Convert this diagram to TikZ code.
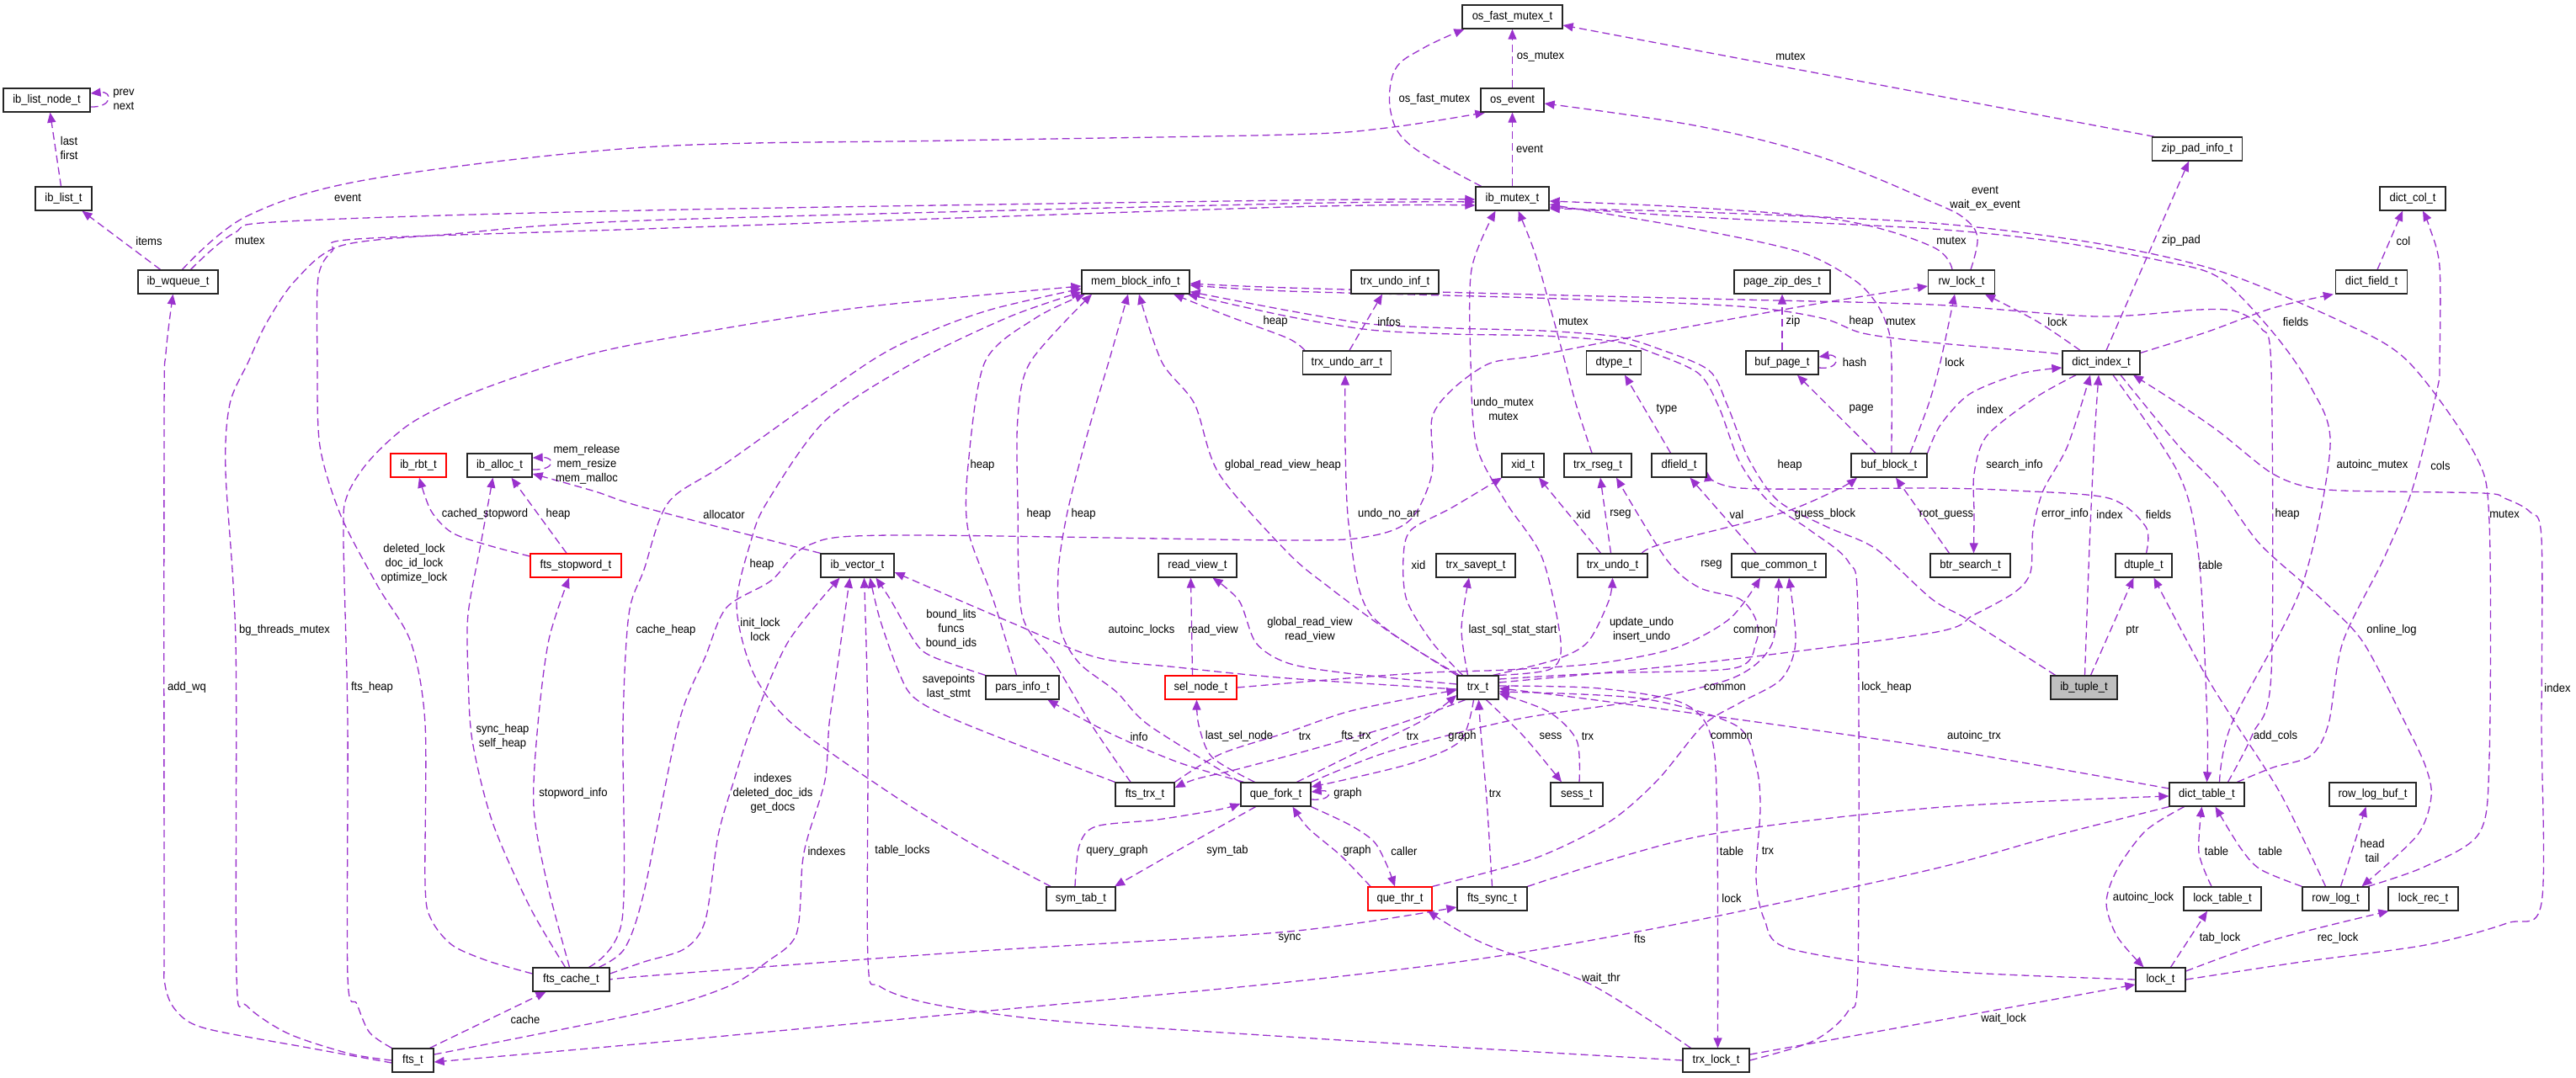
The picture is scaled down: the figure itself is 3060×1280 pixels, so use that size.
\documentclass[tikz,border=0pt]{standalone}
\usepackage{fontspec}
\setmainfont{Liberation Sans}[FakeStretch=0.93]
\usetikzlibrary{arrows.meta}
\definecolor{dorch}{RGB}{154,50,205}
\newcommand\dxf{\fontsize{14pt}{17pt}\selectfont}
\pgfdeclarelayer{edges}
\pgfsetlayers{edges,main}
\tikzset{
 box/.style={draw=black!85, line width=1.3pt, fill=white, minimum height=28pt, inner sep=0pt, font=\dxf},
 redbox/.style={box, draw=red},
 e/.style={draw=dorch, line width=1.3pt, dash pattern=on 9pt off 5pt, -{Triangle[length=12pt,width=10pt]}},
 lbl/.style={inner sep=0pt, font=\dxf, align=center},
}
\begin{document}
\begin{tikzpicture}[x=1pt,y=-1pt]
\useasboundingbox (0,0) rectangle (3060,1280);
\begin{pgfonlayer}{edges}
\fill[white] (0,0) rectangle (3060,1280);
\end{pgfonlayer}
% ---------------- nodes
\node[box,minimum width=103pt] (iblnode) at (55.5,119) {ib\_list\_node\_t};
\node[box,minimum width=67pt] (iblist) at (75.5,236) {ib\_list\_t};
\node[box,minimum width=95pt] (wqueue) at (211.5,335) {ib\_wqueue\_t};
\node[box,minimum width=128pt] (memblock) at (1349,335) {mem\_block\_info\_t};
\node[box,minimum width=119pt] (osfast) at (1796.5,20) {os\_fast\_mutex\_t};
\node[box,minimum width=75pt] (osevent) at (1796.5,119) {os\_event};
\node[box,minimum width=87pt] (ibmutex) at (1796.5,236) {ib\_mutex\_t};
\node[box,minimum width=104pt] (undoinf) at (1657,335) {trx\_undo\_inf\_t};
\node[box,minimum width=114pt] (pagezip) at (2117,335) {page\_zip\_des\_t};
\node[box,minimum width=105pt] (undoarr) at (1600,431) {trx\_undo\_arr\_t};
\node[box,minimum width=65pt] (dtype) at (1917,431) {dtype\_t};
\node[box,minimum width=86pt] (bufpage) at (2117,431) {buf\_page\_t};
\node[box,minimum width=79pt] (rwlock) at (2330,335) {rw\_lock\_t};
\node[box,minimum width=107pt] (zippad) at (2610,177) {zip\_pad\_info\_t};
\node[box,minimum width=78pt] (dictcol) at (2866,236) {dict\_col\_t};
\node[box,minimum width=85pt] (dictfield) at (2817,335) {dict\_field\_t};
\node[box,minimum width=92pt] (dictindex) at (2496,431) {dict\_index\_t};
\node[redbox,minimum width=66pt] (ibrbt) at (497,553) {ib\_rbt\_t};
\node[box,minimum width=77pt] (iballoc) at (593.5,553) {ib\_alloc\_t};
\node[redbox,minimum width=108pt] (stopword) at (684,672) {fts\_stopword\_t};
\node[box,minimum width=87pt] (ibvector) at (1018.5,672) {ib\_vector\_t};
\node[box,minimum width=93pt] (readview) at (1422.5,672) {read\_view\_t};
\node[box,minimum width=87pt] (parsinfo) at (1214.5,817) {pars\_info\_t};
\node[redbox,minimum width=85pt] (selnode) at (1426.5,817) {sel\_node\_t};
\node[box,minimum width=50pt] (xid) at (1809,553) {xid\_t};
\node[box,minimum width=80pt] (trxrseg) at (1898,553) {trx\_rseg\_t};
\node[box,minimum width=65pt] (dfield) at (1994.5,553) {dfield\_t};
\node[box,minimum width=90pt] (bufblock) at (2244,553) {buf\_block\_t};
\node[box,minimum width=94pt] (savept) at (1753,672) {trx\_savept\_t};
\node[box,minimum width=83pt] (trxundo) at (1915.5,672) {trx\_undo\_t};
\node[box,minimum width=112pt] (quecommon) at (2113,672) {que\_common\_t};
\node[box,minimum width=49pt] (trx) at (1755.5,817) {trx\_t};
\node[box,minimum width=95pt] (btrsearch) at (2340.5,672) {btr\_search\_t};
\node[box,minimum width=67pt] (dtuple) at (2546.5,672) {dtuple\_t};
\node[box,fill=black!25,minimum width=79pt] (ibtuple) at (2475.5,817) {ib\_tuple\_t};
\node[box,minimum width=91pt] (ftscache) at (678.5,1164) {fts\_cache\_t};
\node[box,minimum width=49pt] (fts) at (490.5,1260) {fts\_t};
\node[box,minimum width=70pt] (ftstrx) at (1360,944) {fts\_trx\_t};
\node[box,minimum width=83pt] (quefork) at (1515.5,944) {que\_fork\_t};
\node[box,minimum width=82pt] (symtab) at (1284,1068) {sym\_tab\_t};
\node[box,minimum width=62pt] (sess) at (1873,944) {sess\_t};
\node[redbox,minimum width=76pt] (quethr) at (1663,1068) {que\_thr\_t};
\node[box,minimum width=83pt] (ftssync) at (1772.5,1068) {fts\_sync\_t};
\node[box,minimum width=79pt] (trxlock) at (2038.5,1260) {trx\_lock\_t};
\node[box,minimum width=89pt] (dicttable) at (2621.5,944) {dict\_table\_t};
\node[box,minimum width=103pt] (rowlogbuf) at (2818.5,944) {row\_log\_buf\_t};
\node[box,minimum width=92pt] (locktable) at (2640,1068) {lock\_table\_t};
\node[box,minimum width=79pt] (rowlog) at (2774.5,1068) {row\_log\_t};
\node[box,minimum width=83pt] (lockrec) at (2878.5,1068) {lock\_rec\_t};
\node[box,minimum width=59pt] (lock) at (2566.5,1164) {lock\_t};
% ---------------- edges
\begin{pgfonlayer}{edges}
\draw[e] ([yshift=-8pt]iblnode.east) .. controls (134,128) and (134,108) .. ([yshift=8pt]iblnode.east);
\draw[e] ([xshift=-3pt]iblist.north) -- ([xshift=4pt]iblnode.south);
\draw[e] ([xshift=-21pt]wqueue.north) -- ([xshift=22pt]iblist.south);
\draw[e] plot[smooth,tension=.55] coordinates {([xshift=5pt]wqueue.north) (293,257) (439,213) (765,175) (1131,167) (1530,160) (1647,152) ([xshift=6pt]osevent.south west)};
\draw[e] plot[smooth,tension=.55] coordinates {([xshift=15pt]wqueue.north) (278,277) (341,263) (765,250) (1530,238) ([yshift=-1pt]ibmutex.west)};
\draw[e] plot[smooth,tension=.5] coordinates {([yshift=-3pt]fts.west) (366,1245) (244,1222) (210,1202) (196,1170) (195,1100) (195,500) (197,420) ([xshift=-6pt]wqueue.south)};
\draw[e] plot[smooth,tension=.5] coordinates {(fts.west) (415,1252) (342,1228) (293,1195) (281,1160) (280,763) (268,560) (273,480) (295,430) (317,383) (351,333) (405,292) (537,278) (765,262) (1530,242) ([yshift=-4pt]ibmutex.west)};
\draw[e] plot[smooth,tension=.5] coordinates {(fts.north west) (439,1227) (424,1193) (413,1160) (413,860) (408,640) (412,590) (439,547) (488,503) (561,467) (668,430) (765,407) (1009,367) ([yshift=-5pt]memblock.west)};
\draw[e] plot[smooth,tension=.5] coordinates {([yshift=7pt]ftscache.west) (580,1142) (537,1123) (512,1092) (505,1050) (505,860) (488,763) (449,697) (405,613) (380,530) (377,430) (378,330) (395,298) (424,284) (765,272) (1530,246) ([yshift=-8pt]ibmutex.west)};
\draw[e] ([xshift=-5pt]fts.north east) -- ([xshift=-30pt]ftscache.south);
\draw[e] (ibmutex.north) -- (osevent.south);
\draw[e] (osevent.north) -- (osfast.south);
\draw[e] plot[smooth,tension=.6] coordinates {([xshift=-37pt]ibmutex.north) (1676,173) (1652,133) (1657,83) (1691,57) ([xshift=3pt]osfast.south west)};
\draw[e] ([xshift=3pt]zippad.north west) -- ([yshift=-10pt]osfast.east);
\draw[e] plot[smooth,tension=.6] coordinates {([xshift=11pt]rwlock.north) (2349,283) (2334,260) (2295,240) (2164,187) (2018,150) ([yshift=-4pt]osevent.east)};
\draw[e] plot[smooth,tension=.6] coordinates {([xshift=-11pt]rwlock.north) (2295,293) (2189,262) (2018,247) ([yshift=-3pt]ibmutex.east)};
\draw[e] plot[smooth,tension=.5] coordinates {([xshift=3pt]bufblock.north) (2247,430) (2244,395) (2230,362) (2203,333) (2140,300) (2018,273) ([yshift=-7pt]ibmutex.east)};
\draw[e] plot[smooth,tension=.5] coordinates {([xshift=15pt]dicttable.north) (2651,860) (2734,697) (2768,530) (2745,460) (2700,395) (2636,330) (2568,310) (2441,287) (2295,272) (2018,258) ([yshift=-10pt]ibmutex.east)};
\draw[e] plot[smooth,tension=.5] coordinates {([xshift=-2pt]rowlog.north east) (2880,1030) (2945,990) (2957,900) (2957,620) (2940,540) (2861,430) (2783,383) (2636,322) (2490,289) (2295,265) (2018,252) ([yshift=-12pt]ibmutex.east)};
\draw[e] ([xshift=6pt]dictindex.north) -- ([xshift=-10pt]zippad.south);
\draw[e] ([xshift=7pt]dictfield.north) -- ([xshift=-12pt]dictcol.south);
\draw[e] plot[smooth,tension=.5] coordinates {([xshift=36pt]dicttable.north) (2700,912) (2745,898) (2766,860) (2783,763) (2832,663) (2866,580) (2895,463) (2898,430) (2898,317) (2886,270) ([xshift=12pt]dictcol.south)};
\draw[e] plot[smooth,tension=.5] coordinates {([yshift=-3pt]dictindex.north east) (2620,395) (2700,366) ([xshift=-2pt]dictfield.south west)};
\draw[e] plot[smooth,tension=.5] coordinates {([xshift=-25pt]dictindex.north) (2420,382) ([xshift=28pt]rwlock.south)};
\draw[e] plot[smooth,tension=.5] coordinates {([xshift=25pt]bufblock.north) (2291,480) (2305,430) ([xshift=-8pt]rwlock.south)};
\draw[e] plot[smooth,tension=.5] coordinates {([yshift=5pt]dictindex.west) (2441,420) (2295,407) (2213,396) (2164,378) (2066,364) (1823,354) (1530,346) ([yshift=-4pt]memblock.east)};
\draw[e] (bufpage.north) -- (pagezip.south);
\draw[e] ([yshift=-6pt]bufpage.east) .. controls (2186,440) and (2186,420) .. ([yshift=7pt]bufpage.east);
\draw[e] ([xshift=-16pt]bufblock.north) -- ([xshift=18pt]bufpage.south);
\draw[e] plot[smooth,tension=.5] coordinates {(bufblock.north east) (2305,505) (2340,468) (2400,444) ([yshift=-6pt]dictindex.west)};
\draw[e] plot[smooth,tension=.5] coordinates {([xshift=-30pt]dictindex.south) (2417,473) (2360,518) (2345,563) (2345,610) ([xshift=4pt]btrsearch.north)};
\draw[e] ([xshift=-25pt]btrsearch.north) -- ([xshift=8pt]bufblock.south);
\draw[e] plot[smooth,tension=.5] coordinates {([xshift=1pt]ibtuple.north) (2482,650) (2488,520) ([xshift=-3pt]dictindex.south)};
\draw[e] ([xshift=8pt]ibtuple.north) -- ([xshift=-12pt]dtuple.south);
\draw[e] plot[smooth,tension=.5] coordinates {([xshift=-34pt]ibtuple.north) (2339,737) (2295,712) (2228,652) (2170,626) (2112,595) (2077,545) (2052,482) (2030,440) (1969,414) (1920,400) (1832,393) (1725,390) (1628,385) (1530,369) ([yshift=3pt]memblock.south east)};
\draw[e] plot[smooth,tension=.5] coordinates {(trxlock.east) (2154,1237) (2195,1202) (2207,1150) (2207,730) (2196,668) (2150,630) (2100,595) (2066,548) (2042,484) (2018,444) (1965,420) (1920,406) (1832,399) (1725,397) (1628,392) (1530,376) ([xshift=-3pt]memblock.south east)};
\draw[e] plot[smooth,tension=.5] coordinates {([xshift=25pt]dicttable.north) (2676,872) (2698,800) (2698,440) (2686,390) (2656,370) (2612,368) (2490,376) (2295,362) (2066,356) (1823,350) (1530,342) ([yshift=-2pt]memblock.east)};
\draw[e] plot[smooth,tension=.5] coordinates {([xshift=-50pt]undoarr.north) (1530,402) (1460,376) ([xshift=45pt]memblock.south)};
\draw[e] ([xshift=3pt]undoarr.north) -- ([xshift=-15pt]undoinf.south);
\draw[e] plot[smooth,tension=.5] coordinates {([xshift=-7pt]trxrseg.north) (1872,480) (1859,430) (1842,367) (1823,300) ([xshift=7pt]ibmutex.south)};
\draw[e] plot[smooth,tension=.5] coordinates {(trx.north east) (1842,795) (1854,763) (1832,663) (1789,597) (1754,530) (1747,430) (1748,320) ([xshift=-20pt]ibmutex.south)};
\draw[e] plot[smooth,tension=.5] coordinates {([xshift=-22pt]trx.north) (1628,730) (1603,630) (1598,530) ([xshift=-2pt]undoarr.south)};
\draw[e] plot[smooth,tension=.5] coordinates {(trx.north west) (1652,752) (1579,698) (1530,657) (1448,563) (1419,480) (1380,430) ([xshift=4pt]memblock.south)};
\draw[e] plot[smooth,tension=.5] coordinates {([yshift=4pt]trx.west) (1600,800) (1530,788) (1492,764) (1472,714) ([xshift=18pt]readview.south)};
\draw[e] plot[smooth,tension=.5] coordinates {([yshift=-2pt]trx.west) (1530,806) (1399,793) (1302,781) (1204,741) ([yshift=-8pt]ibvector.east)};
\draw[e] ([xshift=-10pt]selnode.north) -- ([xshift=-8pt]readview.south);
\draw[e] plot[smooth,tension=.5] coordinates {(selnode.east) (1600,806) (1700,799) (1790,796) (1900,788) (1990,770) (2055,735) ([xshift=-22pt]quecommon.south)};
\draw[e] plot[smooth,tension=.5] coordinates {([xshift=-25pt]quefork.north) (1440,900) (1424,862) ([xshift=-5pt]selnode.south)};
\draw[e] plot[smooth,tension=.5] coordinates {([xshift=-38pt]quefork.north) (1400,906) (1320,872) ([xshift=30pt]parsinfo.south)};
\draw[e] plot[smooth,tension=.5] coordinates {(quefork.north west) (1365,862) (1326,822) (1282,788) (1260,748) (1257,680) (1267,613) (1285,540) (1302,480) (1317,430) ([xshift=-9pt]memblock.south)};
\draw[e] plot[smooth,tension=.5] coordinates {([xshift=-17pt]ftstrx.north) (1297,862) (1253,788) (1214,730) (1209,597) (1209,497) (1224,430) ([xshift=-52pt]memblock.south)};
\draw[e] plot[smooth,tension=.5] coordinates {([xshift=-7pt]parsinfo.north) (1180,713) (1150,630) (1150,553) (1170,430) (1230,378) ([xshift=-60pt]memblock.south)};
\draw[e] plot[smooth,tension=.5] coordinates {([xshift=-36pt]symtab.north) (1155,1003) (1058,943) (941,860) (895,800) (875,720) (892,643) (911,597) (980,500) (1087,430) (1200,376) ([yshift=-12pt]memblock.west)};
\draw[e] plot[smooth,tension=.5] coordinates {([xshift=21pt]ftscache.north) (739,1093) (740,860) (747,730) (765,677) (794,597) (863,550) (1033,430) (1107,393) (1180,367) ([yshift=-8pt]memblock.west)};
\draw[e] plot[smooth,tension=.5] coordinates {([xshift=33pt]ftscache.north) (742,1127) (765,1060) (806,860) (838,780) (863,722) (916,690) (960,648) (1058,636) (1530,642) (1628,637) (1676,617) (1701,563) (1701,497) (1725,463) (1769,432) (1823,423) (1920,404) (2018,386) (2164,360) ([yshift=-5pt]rwlock.west)};
\draw[e] plot[smooth,tension=.5] coordinates {([xshift=-7pt]ftscache.north) (629,1077) (585,977) (561,880) (556,800) (556,730) (571,647) ([xshift=-8pt]iballoc.south)};
\draw[e] plot[smooth,tension=.5] coordinates {([xshift=-2pt]ftscache.north) (650,1050) (634,960) (639,860) (652,760) ([xshift=-8pt]stopword.south)};
\draw[e] plot[smooth,tension=.5] coordinates {([yshift=11pt]stopword.west) (580,648) (537,633) (512,607) ([xshift=1pt]ibrbt.south)};
\draw[e] ([xshift=-11pt]stopword.north) -- ([xshift=14pt]iballoc.south);
\draw[e] ([yshift=-5pt]iballoc.east) .. controls (660,559) and (660,543) .. ([yshift=9pt]iballoc.east);
\draw[e] plot[smooth,tension=.5] coordinates {(ibvector.north west) (765,603) (707,584) ([yshift=-10pt]iballoc.east)};
\draw[e] plot[smooth,tension=.5] coordinates {([yshift=7pt]ftscache.east) (765,1143) (814,1127) (838,1093) (853,993) (872,927) (894,860) (936,763) ([xshift=-21pt]ibvector.south)};
\draw[e] plot[smooth,tension=.5] coordinates {([yshift=7pt]fts.east) (765,1203) (863,1173) (911,1143) (946,1110) (953,1027) (960,993) (980,927) (985,860) (994,797) ([xshift=-9pt]ibvector.south)};
\draw[e] plot[smooth,tension=.5] coordinates {(trxlock.west) (1774,1247) (1530,1232) (1253,1213) (1107,1193) (1045,1172) (1031,1140) (1031,860) ([xshift=8pt]ibvector.south)};
\draw[e] plot[smooth,tension=.5] coordinates {(parsinfo.north west) (1107,780) (1087,763) (1058,713) ([xshift=22pt]ibvector.south)};
\draw[e] plot[smooth,tension=.5] coordinates {(ftstrx.north west) (1146,860) (1087,830) (1067,797) (1045,735) ([xshift=15pt]ibvector.south)};
\draw[e] plot[smooth,tension=.5] coordinates {(dicttable.south west) (2441,993) (2295,1033) (2018,1093) (1774,1137) (1530,1167) (1155,1203) (765,1240) ([yshift=-2pt]fts.east)};
\draw[e] plot[smooth,tension=.5] coordinates {([yshift=-1pt]ftscache.east) (765,1160) (1150,1131) (1530,1107) ([yshift=-10pt]ftssync.west)};
\draw[e] plot[smooth,tension=.5] coordinates {(ftssync.north) (1766,950) (1759,870) ([xshift=1pt]trx.south)};
\draw[e] plot[smooth,tension=.5] coordinates {(ftssync.north east) (2018,994) (2295,960) ([yshift=-2pt]dicttable.west)};
\draw[e] plot[smooth,tension=.5] coordinates {([xshift=-7pt]symtab.north) (1282,1005) (1302,982) (1375,974) (1448,962) ([yshift=-11pt]quefork.west)};
\draw[e] plot[smooth,tension=.5] coordinates {([xshift=-24pt]quefork.south) (1400,1010) ([xshift=40pt]symtab.north)};
\draw[e] ([yshift=-6pt]quefork.east) .. controls (1583,952) and (1583,938) .. ([yshift=3pt]quefork.east);
\draw[e] plot[smooth,tension=.5] coordinates {([xshift=-35pt]quethr.north) (1593,1017) (1554,984) ([xshift=20pt]quefork.south)};
\draw[e] plot[smooth,tension=.5] coordinates {(quefork.south east) (1603,980) (1632,1000) (1647,1027) ([xshift=-6pt]quethr.north)};
\draw[e] plot[smooth,tension=.5] coordinates {(quethr.north east) (1823,1020) (1911,977) (1969,927) (2023,862) (2067,835) (2116,807) (2133,763) ([xshift=12pt]quecommon.south)};
\draw[e] plot[smooth,tension=.5] coordinates {(quefork.north east) (1650,893) (1800,855) (1950,832) (2060,805) (2105,765) (quecommon.south)};
\draw[e] plot[smooth,tension=.5] coordinates {([xshift=-15pt]trx.south) (1662,860) (1560,890) (1470,914) (1420,926) ([yshift=8pt]ftstrx.east)};
\draw[e] plot[smooth,tension=.5] coordinates {(ftstrx.north east) (1450,896) (1530,870) (1600,846) (1680,829) ([yshift=-3pt]trx.west)};
\draw[e] plot[smooth,tension=.5] coordinates {([xshift=25pt]quefork.north) (1620,890) (1690,856) ([yshift=-9pt]trx.west)};
\draw[e] plot[smooth,tension=.5] coordinates {([xshift=-5pt]trx.south) (1735,880) (1680,906) (1600,926) ([yshift=9pt]quefork.east)};
\draw[e] plot[smooth,tension=.5] coordinates {([xshift=10pt]trx.south) (1810,875) ([xshift=-18pt]sess.north)};
\draw[e] plot[smooth,tension=.5] coordinates {([xshift=3pt]sess.north) (1873,880) (1840,846) ([yshift=-7pt]trx.east)};
\draw[e] plot[smooth,tension=.5] coordinates {([yshift=2pt]trx.east) (1900,818) (2000,836) (2034,880) (2040,1000) ([xshift=2pt]trxlock.north)};
\draw[e] plot[smooth,tension=.5] coordinates {(lock.west) (2295,1153) (2125,1127) (2096,1093) (2086,1043) (2091,960) (2086,910) (2062,862) (1950,830) ([yshift=-5pt]trx.east)};
\draw[e] plot[smooth,tension=.5] coordinates {([yshift=7pt]dicttable.west) (2295,888) (2000,846) (1850,826) ([yshift=-1pt]trx.east)};
\draw[e] plot[smooth,tension=.5] coordinates {([yshift=6pt]trx.east) (2018,788) (2295,752) (2344,731) (2393,704) (2412,680) (2415,630) (2427,583) (2456,530) ([xshift=-13pt]dictindex.south)};
\draw[e] plot[smooth,tension=.5] coordinates {([yshift=10pt]trx.east) (1900,800) (2060,794) (2086,763) (2086,737) (2067,712) (2018,698) (1979,664) ([xshift=22pt]trxrseg.south)};
\draw[e] plot[smooth,tension=.5] coordinates {([xshift=18pt]trx.north) (1847,784) (1886,763) (1911,714) (trxundo.south)};
\draw[e] plot[smooth,tension=.5] coordinates {([xshift=-12pt]trx.north) (1736,747) ([xshift=-8pt]savept.south)};
\draw[e] plot[smooth,tension=.5] coordinates {([xshift=-18pt]trx.north) (1701,763) (1671,713) (1667,663) (1676,630) (1725,603) ([xshift=-25pt]xid.south)};
\draw[e] ([xshift=-14pt]trxundo.north) -- ([xshift=19pt]xid.south);
\draw[e] ([xshift=-2pt]trxundo.north) -- ([xshift=3pt]trxrseg.south);
\draw[e] plot[smooth,tension=.5] coordinates {([xshift=35pt]trxundo.north) (1975,646) (2115,610) (2184,581) ([xshift=-38pt]bufblock.south)};
\draw[e] ([xshift=-27pt]quecommon.north) -- ([xshift=13pt]dfield.south);
\draw[e] plot[smooth,tension=.5] coordinates {([xshift=3pt]dtuple.north) (2549,626) (2505,592) (2393,583) (2295,580) (2067,580) ([yshift=-7pt]dfield.east)};
\draw[e] ([xshift=-10pt]dfield.north) -- ([xshift=13pt]dtype.south);
\draw[e] plot[smooth,tension=.5] coordinates {([xshift=14pt]dictindex.south) (2588,563) (2612,663) (2622,860) (dicttable.north)};
\draw[e] plot[smooth,tension=.5] coordinates {([xshift=23pt]dictindex.south) (2588,530) (2636,580) (2685,647) (2759,713) (2807,763) (2856,857) (2881,910) (2888,947) (2871,993) ([xshift=31pt]rowlog.north)};
\draw[e] plot[smooth,tension=.5] coordinates {(lock.east) (2734,1143) (2881,1123) (2978,1097) (3019,1073) (3019,860) (3019,640) (3005,608) (2975,592) (2949,586) (2783,583) (2734,577) (2695,560) (2636,513) (2588,480) ([xshift=38pt]dictindex.south)};
\draw[e] plot[smooth,tension=.5] coordinates {([xshift=-12pt]rowlog.north) (2710,945) (2656,860) (2617,797) ([xshift=12pt]dtuple.south)};
\draw[e] plot[smooth,tension=.5] coordinates {(rowlog.north west) (2685,1033) (2661,1007) ([xshift=10pt]dicttable.south)};
\draw[e] ([xshift=6pt]rowlog.north) -- ([xshift=-8pt]rowlogbuf.south);
\draw[e] plot[smooth,tension=.5] coordinates {([xshift=-13pt]locktable.north) (2612,1013) ([xshift=-6pt]dicttable.south)};
\draw[e] plot[smooth,tension=.5] coordinates {([xshift=-27pt]dicttable.south) (2549,987) (2515,1033) (2502,1073) (2515,1113) ([xshift=-20pt]lock.north)};
\draw[e] ([xshift=12pt]lock.north) -- ([xshift=-18pt]locktable.south);
\draw[e] plot[smooth,tension=.5] coordinates {([yshift=10pt]lock.east) (2700,1117) ([xshift=1pt]lockrec.south west)};
\draw[e] plot[smooth,tension=.5] coordinates {([yshift=7pt]trxlock.east) (2295,1214) ([yshift=-6pt]lock.west)};
\draw[e] plot[smooth,tension=.5] coordinates {([xshift=-30pt]trxlock.north) (1890,1170) (1760,1120) ([xshift=33pt]quethr.south)};
\end{pgfonlayer}
% ---------------- labels
\node[lbl] (l1) at (147,118) {prev\\next};
\node[lbl] (l2) at (82,176) {last\\first};
\node[lbl] (l3) at (177,286) {items};
\node[lbl] (l4) at (413,235) {event};
\node[lbl] (l5) at (297,286) {mutex};
\node[lbl] (l6) at (222,817) {add\_wq};
\node[lbl] (l7) at (338,749) {bg\_threads\_mutex};
\node[lbl] (l8) at (442,817) {fts\_heap};
\node[lbl] (l9) at (492,670) {deleted\_lock\\doc\_id\_lock\\optimize\_lock};
\node[lbl] (l10) at (624,1211) {cache};
\node[lbl] (l11) at (1817,177) {event};
\node[lbl] (l12) at (1830,67) {os\_mutex};
\node[lbl] (l13) at (1704,118) {os\_fast\_mutex};
\node[lbl] (l14) at (2127,67) {mutex};
\node[lbl] (l15) at (2358,236) {event\\wait\_ex\_event};
\node[lbl] (l16) at (2318,286) {mutex};
\node[lbl] (l17) at (2258,382) {mutex};
\node[lbl] (l18) at (2818,553) {autoinc\_mutex};
\node[lbl] (l19) at (2975,611) {mutex};
\node[lbl] (l20) at (2591,286) {zip\_pad};
\node[lbl] (l21) at (2855,286) {col};
\node[lbl] (l22) at (2899,553) {cols};
\node[lbl] (l23) at (2727,382) {fields};
\node[lbl] (l24) at (2444,382) {lock};
\node[lbl] (l25) at (2322,430) {lock};
\node[lbl] (l26) at (2211,382) {heap};
\node[lbl] (l27) at (2130,382) {zip};
\node[lbl] (l28) at (2203,430) {hash};
\node[lbl] (l29) at (2211,486) {page};
\node[lbl] (l30) at (2364,486) {index};
\node[lbl] (l31) at (2393,553) {search\_info};
\node[lbl] (l32) at (2312,611) {root\_guess};
\node[lbl] (l33) at (2506,611) {index};
\node[lbl] (l34) at (2533,749) {ptr};
\node[lbl] (l35) at (2126,553) {heap};
\node[lbl] (l36) at (2241,817) {lock\_heap};
\node[lbl] (l37) at (2717,611) {heap};
\node[lbl] (l38) at (1515,382) {heap};
\node[lbl] (l39) at (1650,382) {infos};
\node[lbl] (l40) at (1869,382) {mutex};
\node[lbl] (l41) at (1786,486) {undo\_mutex\\mutex};
\node[lbl] (l42) at (1650,611) {undo\_no\_arr};
\node[lbl] (l43) at (1524,553) {global\_read\_view\_heap};
\node[lbl] (l44) at (1556,748) {global\_read\_view\\read\_view};
\node[lbl] (l45) at (1356,749) {autoinc\_locks};
\node[lbl] (l46) at (1441,749) {read\_view};
\node[lbl] (l47) at (2084,749) {common};
\node[lbl] (l48) at (1472,875) {last\_sel\_node};
\node[lbl] (l49) at (1353,875) {info};
\node[lbl] (l50) at (1287,611) {heap};
\node[lbl] (l51) at (1234,611) {heap};
\node[lbl] (l52) at (1167,553) {heap};
\node[lbl] (l53) at (905,671) {heap};
\node[lbl] (l54) at (791,749) {cache\_heap};
\node[lbl] (l55) at (903,748) {init\_lock\\lock};
\node[lbl] (l56) at (597,875) {sync\_heap\\self\_heap};
\node[lbl] (l57) at (681,943) {stopword\_info};
\node[lbl] (l58) at (576,611) {cached\_stopword};
\node[lbl] (l59) at (663,611) {heap};
\node[lbl] (l60) at (697,552) {mem\_release\\mem\_resize\\mem\_malloc};
\node[lbl] (l61) at (860,611) {allocator};
\node[lbl] (l62) at (918,943) {indexes\\deleted\_doc\_ids\\get\_docs};
\node[lbl] (l63) at (982,1011) {indexes};
\node[lbl] (l64) at (1072,1011) {table\_locks};
\node[lbl] (l65) at (1130,748) {bound\_lits\\funcs\\bound\_ids};
\node[lbl] (l66) at (1127,816) {savepoints\\last\_stmt};
\node[lbl] (l67) at (1948,1115) {fts};
\node[lbl] (l68) at (1532,1115) {sync};
\node[lbl] (l69) at (1776,943) {trx};
\node[lbl] (l70) at (2057,1011) {table};
\node[lbl] (l71) at (1327,1011) {query\_graph};
\node[lbl] (l72) at (1458,1011) {sym\_tab};
\node[lbl] (l73) at (1601,943) {graph};
\node[lbl] (l74) at (1612,1011) {graph};
\node[lbl] (l75) at (1668,1011) {caller};
\node[lbl] (l76) at (2057,875) {common};
\node[lbl] (l77) at (2049,817) {common};
\node[lbl] (l78) at (1611,875) {fts\_trx};
\node[lbl] (l79) at (1550,875) {trx};
\node[lbl] (l80) at (1678,875) {trx};
\node[lbl] (l81) at (1737,875) {graph};
\node[lbl] (l82) at (1842,875) {sess};
\node[lbl] (l83) at (1886,875) {trx};
\node[lbl] (l84) at (2057,1067) {lock};
\node[lbl] (l85) at (2100,1011) {trx};
\node[lbl] (l86) at (2345,875) {autoinc\_trx};
\node[lbl] (l87) at (2453,611) {error\_info};
\node[lbl] (l88) at (2033,671) {rseg};
\node[lbl] (l89) at (1950,748) {update\_undo\\insert\_undo};
\node[lbl] (l90) at (1797,749) {last\_sql\_stat\_start};
\node[lbl] (l91) at (1685,671) {xid};
\node[lbl] (l92) at (1881,611) {xid};
\node[lbl] (l93) at (1925,611) {rseg};
\node[lbl] (l94) at (2168,611) {guess\_block};
\node[lbl] (l95) at (2063,611) {val};
\node[lbl] (l96) at (2564,611) {fields};
\node[lbl] (l97) at (1980,486) {type};
\node[lbl] (l98) at (2626,671) {table};
\node[lbl] (l99) at (2841,749) {online\_log};
\node[lbl] (l100) at (3038,817) {index};
\node[lbl] (l101) at (2703,875) {add\_cols};
\node[lbl] (l102) at (2697,1011) {table};
\node[lbl] (l103) at (2818,1011) {head\\tail};
\node[lbl] (l104) at (2633,1011) {table};
\node[lbl] (l105) at (2546,1067) {autoinc\_lock};
\node[lbl] (l106) at (2637,1115) {tab\_lock};
\node[lbl] (l107) at (2777,1115) {rec\_lock};
\node[lbl] (l108) at (2380,1211) {wait\_lock};
\node[lbl] (l109) at (1902,1163) {wait\_thr};
\end{tikzpicture}
\end{document}
